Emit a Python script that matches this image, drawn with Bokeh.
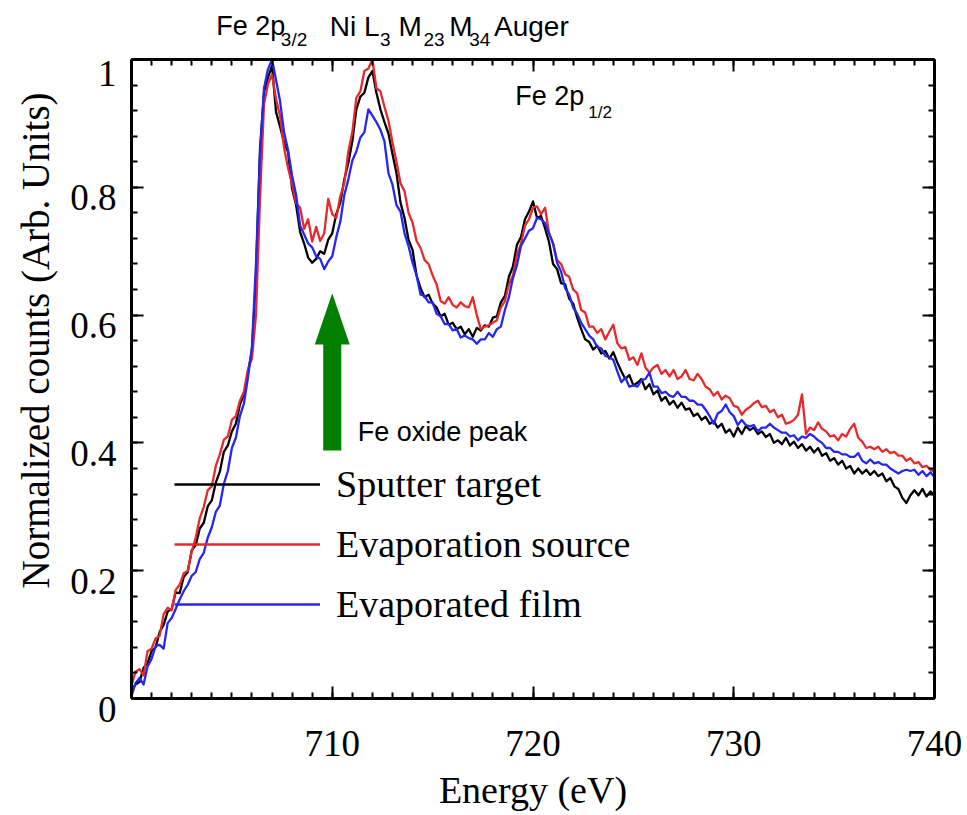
import numpy as np
from bokeh.plotting import figure
from bokeh.layouts import column
from bokeh.models import Range1d, FixedTicker, LinearAxis, Label, Title
from bokeh.embed import file_html
from bokeh.resources import INLINE

# Energy grid of the XPS scans (eV)
e_start, e_step, n_pts = 700.0, 0.2, 201
energy = np.round(e_start + e_step * np.arange(n_pts), 1)

# Normalized counts, one value per 0.2 eV from 700 to 740 eV
sputter_target = [
    0.012, 0.022, 0.026, 0.048, 0.055, 0.074, 0.08, 0.104, 0.115, 0.136,
    0.14, 0.166, 0.165, 0.19, 0.198, 0.232, 0.24, 0.266, 0.275, 0.301,
    0.31, 0.338, 0.355, 0.386, 0.396, 0.418, 0.43, 0.46, 0.476, 0.51,
    0.545, 0.66, 0.86, 0.948, 0.972, 0.99, 0.918, 0.895, 0.87, 0.855,
    0.798, 0.772, 0.73, 0.712, 0.69, 0.682, 0.688, 0.7, 0.696, 0.718,
    0.728, 0.758, 0.776, 0.812, 0.838, 0.872, 0.922, 0.942, 0.948, 0.972,
    0.982, 0.948, 0.922, 0.902, 0.884, 0.852, 0.822, 0.776, 0.752, 0.718,
    0.702, 0.662, 0.642, 0.628, 0.632, 0.618, 0.612, 0.598, 0.602, 0.585,
    0.588, 0.578, 0.582, 0.57, 0.578, 0.566, 0.58, 0.576, 0.584, 0.582,
    0.596, 0.598, 0.62, 0.63, 0.66, 0.676, 0.71, 0.722, 0.75, 0.762,
    0.778, 0.752, 0.755, 0.736, 0.714, 0.68, 0.672, 0.65, 0.648, 0.626,
    0.618, 0.596, 0.578, 0.562, 0.558, 0.546, 0.552, 0.54, 0.544, 0.532,
    0.542, 0.526, 0.512, 0.5, 0.506, 0.49, 0.494, 0.5, 0.484, 0.492,
    0.476, 0.482, 0.466, 0.472, 0.46, 0.466, 0.455, 0.463, 0.452, 0.454,
    0.442, 0.446, 0.436, 0.441, 0.43, 0.434, 0.424, 0.43, 0.416, 0.421,
    0.41, 0.424, 0.414, 0.426, 0.42, 0.424, 0.414, 0.418, 0.409, 0.414,
    0.4, 0.404, 0.398, 0.408, 0.396, 0.402, 0.392, 0.398, 0.388, 0.394,
    0.385, 0.392, 0.38, 0.384, 0.372, 0.376, 0.366, 0.372, 0.36, 0.364,
    0.352, 0.36, 0.352, 0.358, 0.35, 0.356, 0.348, 0.352, 0.34, 0.345,
    0.332, 0.328, 0.314, 0.306, 0.318, 0.326, 0.318, 0.328, 0.316, 0.324,
    0.318,
]

evaporation_source = [
    0.02, 0.042, 0.046, 0.036, 0.074, 0.078, 0.094, 0.098, 0.132, 0.142,
    0.138, 0.17, 0.178, 0.196, 0.2, 0.23, 0.252, 0.282, 0.3, 0.326,
    0.332, 0.364, 0.382, 0.405, 0.41, 0.436, 0.442, 0.466, 0.48, 0.515,
    0.532, 0.6, 0.78, 0.93, 0.962, 0.976, 0.938, 0.912, 0.862, 0.83,
    0.805, 0.775, 0.768, 0.735, 0.75, 0.715, 0.738, 0.716, 0.728, 0.782,
    0.758, 0.752, 0.786, 0.806, 0.856, 0.886, 0.94, 0.95, 0.982, 0.986,
    1.0, 0.955, 0.95, 0.926, 0.904, 0.87, 0.84, 0.806, 0.794, 0.76,
    0.745, 0.716, 0.705, 0.686, 0.68, 0.662, 0.648, 0.622, 0.618, 0.628,
    0.616, 0.612, 0.62, 0.614, 0.612, 0.628, 0.6, 0.578, 0.582, 0.584,
    0.588, 0.592, 0.612, 0.622, 0.648, 0.662, 0.694, 0.712, 0.74, 0.75,
    0.768, 0.77, 0.758, 0.768, 0.728, 0.712, 0.686, 0.68, 0.664, 0.66,
    0.64, 0.634, 0.608, 0.604, 0.582, 0.582, 0.572, 0.578, 0.562, 0.574,
    0.585, 0.556, 0.548, 0.55, 0.53, 0.534, 0.522, 0.54, 0.518, 0.51,
    0.518, 0.522, 0.508, 0.514, 0.504, 0.514, 0.5, 0.504, 0.514, 0.5,
    0.498, 0.508, 0.5, 0.488, 0.484, 0.474, 0.48, 0.468, 0.474, 0.47,
    0.458, 0.456, 0.444, 0.452, 0.456, 0.462, 0.466, 0.456, 0.458, 0.448,
    0.452, 0.44, 0.444, 0.43, 0.432, 0.436, 0.444, 0.476, 0.414, 0.424,
    0.42, 0.432, 0.422, 0.418, 0.41, 0.412, 0.404, 0.414, 0.41, 0.422,
    0.43, 0.408, 0.402, 0.392, 0.394, 0.39, 0.394, 0.386, 0.39, 0.384,
    0.386, 0.38, 0.38, 0.372, 0.376, 0.368, 0.37, 0.362, 0.364, 0.358,
    0.355,
]

evaporated_film = [
    0.004, 0.024, 0.032, 0.022, 0.05, 0.062, 0.082, 0.084, 0.078, 0.118,
    0.126, 0.14, 0.155, 0.168, 0.178, 0.192, 0.198, 0.218, 0.228, 0.252,
    0.268, 0.292, 0.302, 0.336, 0.356, 0.392, 0.408, 0.442, 0.462, 0.502,
    0.55, 0.68, 0.85, 0.955, 0.985, 1.0, 0.968, 0.935, 0.886, 0.858,
    0.818, 0.788, 0.74, 0.726, 0.712, 0.706, 0.692, 0.688, 0.672, 0.684,
    0.692, 0.722, 0.746, 0.788, 0.812, 0.842, 0.856, 0.878, 0.886, 0.922,
    0.912, 0.902, 0.89, 0.872, 0.822, 0.804, 0.772, 0.762, 0.728, 0.708,
    0.682, 0.662, 0.632, 0.63, 0.62, 0.62, 0.602, 0.598, 0.586, 0.586,
    0.576, 0.578, 0.565, 0.568, 0.564, 0.562, 0.555, 0.562, 0.562, 0.572,
    0.566, 0.578, 0.582, 0.608, 0.628, 0.658, 0.678, 0.708, 0.72, 0.732,
    0.736, 0.752, 0.75, 0.744, 0.728, 0.712, 0.682, 0.668, 0.642, 0.632,
    0.612, 0.602, 0.588, 0.578, 0.568, 0.562, 0.55, 0.548, 0.536, 0.534,
    0.53, 0.512, 0.495, 0.502, 0.488, 0.49, 0.488, 0.498, 0.5, 0.51,
    0.488, 0.488, 0.478, 0.48, 0.474, 0.472, 0.48, 0.472, 0.472, 0.466,
    0.466, 0.46, 0.46, 0.452, 0.442, 0.43, 0.446, 0.45, 0.46, 0.448,
    0.442, 0.428, 0.436, 0.428, 0.426, 0.428, 0.418, 0.424, 0.424, 0.43,
    0.424, 0.42, 0.416, 0.416, 0.41, 0.412, 0.404, 0.41, 0.408, 0.414,
    0.41, 0.404, 0.4, 0.392, 0.392, 0.386, 0.386, 0.382, 0.382, 0.378,
    0.378, 0.384, 0.372, 0.368, 0.374, 0.368, 0.37, 0.366, 0.366, 0.36,
    0.356, 0.352, 0.356, 0.358, 0.356, 0.358, 0.35, 0.356, 0.348, 0.354,
    0.346,
]

series_names = ["Sputter target", "Evaporation source", "Evaporated film"]
series_colors = ["#000000", "#e8282b", "#2626f2"]

# Axis ticks
x_major = [710, 720, 730, 740]
x_minor = list(range(700, 741))
y_major = [0, 0.2, 0.4, 0.6, 0.8, 1.0]
y_labels = ["0", "0.2", "0.4", "0.6", "0.8", "1"]
y_minor = [round(0.04 * k, 2) for k in range(26)]

# Fe oxide marker arrow (energy, tail, head base, tip) and half-widths in eV
oxide_e = 710.0
oxide_tail, oxide_head, oxide_tip = 0.388, 0.554, 0.634
shaft_hw, head_hw = 0.45, 0.87

SERIF = "Liberation Serif"
SANS = "Liberation Sans"

# Page layout: a label strip on top, then the main plot whose frame spans
# page rows FRAME_TOP..FRAME_TOP+FRAME_H
WIDTH, PAGE_H = 967, 815
STRIP_H = 52
FRAME_TOP, FRAME_H = 59, 639
MAIN_H = PAGE_H - STRIP_H
BORDER_BOTTOM = MAIN_H - (FRAME_TOP - STRIP_H) - FRAME_H

x_range = Range1d(700, 740)

p = figure(
    width=WIDTH, height=MAIN_H,
    x_range=x_range, y_range=Range1d(0, 1),
    output_backend="svg", toolbar_location=None, title_location=None,
    min_border_left=128, min_border_right=33,
    min_border_top=FRAME_TOP - STRIP_H, min_border_bottom=BORDER_BOTTOM,
    background_fill_color="white", border_fill_color="white",
)
p.outline_line_color = None
p.xgrid.visible = False
p.ygrid.visible = False

x_ticker = FixedTicker(ticks=x_major, minor_ticks=x_minor)
y_ticker = FixedTicker(ticks=y_major, minor_ticks=y_minor)


def style_axis(ax, ticker):
    ax.ticker = ticker
    ax.axis_line_width = 3
    ax.axis_line_color = "black"
    ax.major_tick_in = 12
    ax.major_tick_out = 0
    ax.minor_tick_in = 6
    ax.minor_tick_out = 0
    ax.major_tick_line_width = 2
    ax.minor_tick_line_width = 2
    ax.major_tick_line_color = "black"
    ax.minor_tick_line_color = "black"
    ax.major_label_text_font = SERIF
    ax.major_label_text_font_size = "37px"
    ax.major_label_text_color = "black"
    ax.axis_label_text_font = SERIF
    ax.axis_label_text_font_size = "38px"
    ax.axis_label_text_font_style = "normal"
    ax.axis_label_text_color = "black"


xax = p.xaxis[0]
style_axis(xax, x_ticker)
xax.major_label_standoff = 32
xax.axis_label = "Energy (eV)"
xax.axis_label_standoff = 10

# y tick labels sit a little below their ticks: an empty first line with a
# tight line height pushes each number down (the top one already sits low)
yax = p.yaxis[0]
style_axis(yax, y_ticker)
yax.major_label_standoff = 15
yax.major_label_overrides = {
    v: (s if v == y_major[-1] else "\n" + s) for v, s in zip(y_major, y_labels)
}
yax.major_label_text_line_height = 0.52

# y-axis title, placed from the bottom of the frame upward
p.add_layout(Title(text="Normalized counts (Arb. Units)", align="left",
                   offset=110, standoff=22, text_font=SERIF,
                   text_font_size="39px", text_font_style="normal",
                   text_color="black"), "left")

# Mirror axes on top and right: ticks only
for side in ("above", "right"):
    ax = LinearAxis()
    style_axis(ax, x_ticker if side == "above" else y_ticker)
    ax.major_label_text_font_size = "0px"
    ax.major_label_text_color = None
    ax.major_label_standoff = 0
    p.add_layout(ax, side)

# Spectra
for vals, name, color in zip(
    [sputter_target, evaporation_source, evaporated_film], series_names, series_colors
):
    p.line(energy, vals, line_color=color, line_width=2.3,
           line_join="round", legend_label=name)

leg = p.legend[0]
leg.location = (43, 64)
leg.padding = 0
leg.margin = 0
leg.spacing = 0
leg.glyph_width = 146
leg.glyph_height = 36
leg.label_height = 60
leg.label_standoff = 16
leg.label_text_font = SERIF
leg.label_text_font_size = "38px"
leg.label_text_color = "black"
leg.border_line_color = None
leg.background_fill_alpha = 0

# Fe oxide arrow
arrow_x = [oxide_e - shaft_hw, oxide_e - shaft_hw, oxide_e - head_hw, oxide_e,
           oxide_e + head_hw, oxide_e + shaft_hw, oxide_e + shaft_hw]
arrow_y = [oxide_tail, oxide_head, oxide_head, oxide_tip,
           oxide_head, oxide_head, oxide_tail]
p.patch(arrow_x, arrow_y, fill_color="#007f00", line_color=None)


def add_text(fig, x, y, text, size):
    # y is the vertical middle of the text line
    fig.add_layout(Label(x=x, y=y, text=text, text_font=SANS,
                         text_font_size=size, text_color="black",
                         text_align="left", text_baseline="middle"))


add_text(p, 711.27, 0.417, "Fe oxide peak", "27px")
add_text(p, 719.11, 0.943, "Fe 2p", "27px")
add_text(p, 722.75, 0.917, "1/2", "17px")

# Top strip shares the energy axis and continues the count scale above 1
strip_lo = 1.0 + (FRAME_TOP - STRIP_H) / FRAME_H
strip_hi = 1.0 + FRAME_TOP / FRAME_H
strip = figure(
    width=WIDTH, height=STRIP_H,
    x_range=x_range, y_range=Range1d(strip_lo, strip_hi),
    output_backend="svg", toolbar_location=None, title_location=None,
    x_axis_type=None, y_axis_type=None,
    min_border_left=128, min_border_right=33,
    min_border_top=0, min_border_bottom=0,
    background_fill_color="white", border_fill_color="white",
)
strip.outline_line_color = None
strip.grid.visible = False

main_y, sub_y = 1.0524, 1.0306
add_text(strip, 704.22, main_y, "Fe 2p", "27px")
add_text(strip, 707.44, sub_y, "3/2", "19px")
add_text(strip, 709.88, main_y, "Ni L", "28px")
add_text(strip, 712.38, sub_y, "3", "19px")
add_text(strip, 713.3, main_y, "M", "28px")
add_text(strip, 714.54, sub_y, "23", "19px")
add_text(strip, 715.83, main_y, "M", "28px")
add_text(strip, 716.82, sub_y, "34", "19px")
add_text(strip, 718.06, main_y, "Auger", "28px")

page = column(strip, p, spacing=0)
open("out.html", "w").write(file_html(page, INLINE))
